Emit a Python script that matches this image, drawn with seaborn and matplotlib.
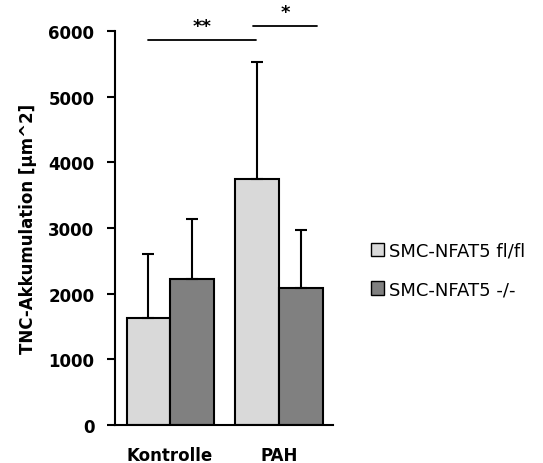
import matplotlib
matplotlib.use("Agg")
import matplotlib.pyplot as plt
import seaborn as sns
import pandas as pd
from matplotlib.patches import Patch

categories = ["Kontrolle", "PAH"]
groups = ["SMC-NFAT5 fl/fl", "SMC-NFAT5 -/-"]
means_flfl = [1630, 3745]
means_ko = [2220, 2085]
sd_flfl = [970, 1780]
sd_ko = [915, 885]
yticks = [0, 1000, 2000, 3000, 4000, 5000, 6000]
colors = ["#d9d9d9", "#808080"]

sns.set_style("white")
plt.rcParams['font.family'] = ['DejaVu Sans']
plt.rcParams['text.color'] = 'black'
plt.rcParams['axes.labelcolor'] = 'black'
plt.rcParams['xtick.color'] = 'black'
plt.rcParams['ytick.color'] = 'black'

df = pd.DataFrame({
    "cat": categories * 2,
    "grp": [groups[0]] * 2 + [groups[1]] * 2,
    "val": means_flfl + means_ko,
})
vals = means_flfl + means_ko
sds = sd_flfl + sd_ko

fig = plt.figure(figsize=(5.43, 4.64), dpi=100)
ax = fig.add_axes([0.212, 0.082, 0.401, 0.849])
sns.barplot(data=df, x="cat", y="val", hue="grp", order=categories, hue_order=groups,
            palette=colors, edgecolor="black", linewidth=1.5, width=0.8, ax=ax,
            errorbar=None, legend=False)

bars = list(ax.patches)
for p, v, s in zip(bars, vals, sds):
    xc = p.get_x() + p.get_width() / 2
    ax.errorbar([xc], [v], yerr=[[0], [s]], fmt="none", ecolor="black",
                elinewidth=1.5, capsize=4, capthick=1.5)

ax.set_ylim(0, 6000)
ax.set_xlim(-0.505, 1.495)
ax.set_yticks(yticks)
ax.set_yticklabels([str(t) for t in yticks], fontsize=12, fontweight="bold")
ax.set_xticks(range(len(categories)))
ax.set_xticklabels(categories, fontsize=12, fontweight="bold")
ax.tick_params(axis="y", direction="out", length=6, width=1.5, left=True, pad=9)
ax.tick_params(axis="x", length=0, pad=15)
ax.set_xlabel("")
ax.set_ylabel("TNC-Akkumulation [µm^2]", fontsize=12, fontweight="bold", labelpad=8)
for s in ["top", "right"]:
    ax.spines[s].set_visible(False)
for s in ["left", "bottom"]:
    ax.spines[s].set_linewidth(1.5)
    ax.spines[s].set_color("black")

# significance annotations
x_k = bars[0].get_x() + bars[0].get_width() / 2
x_pf = bars[1].get_x() + bars[1].get_width() / 2
x_pk = bars[3].get_x() + bars[3].get_width() / 2
l1 = (x_k, x_pf - 0.01)
ax.plot(l1, [5860, 5860], color="black", lw=1.3, clip_on=False)
ax.text(sum(l1) / 2, 5940, "**", ha="center", va="bottom", fontsize=13, fontweight="bold")
l2 = (x_pf - 0.04, x_pk + 0.15)
ax.plot(l2, [6075, 6075], color="black", lw=1.3, clip_on=False)
ax.text(sum(l2) / 2, 6150, "*", ha="center", va="bottom", fontsize=13, fontweight="bold")

handles = [Patch(facecolor=c, edgecolor="black", linewidth=1.0) for c in colors]
fig.legend(handles, groups, loc="center left", bbox_to_anchor=(0.683, 0.416),
           frameon=False, fontsize=13, handlelength=0.75, handleheight=0.75,
           handletextpad=0.25, labelspacing=1.15, borderpad=0, borderaxespad=0)

fig.savefig("out.png", dpi=100)
